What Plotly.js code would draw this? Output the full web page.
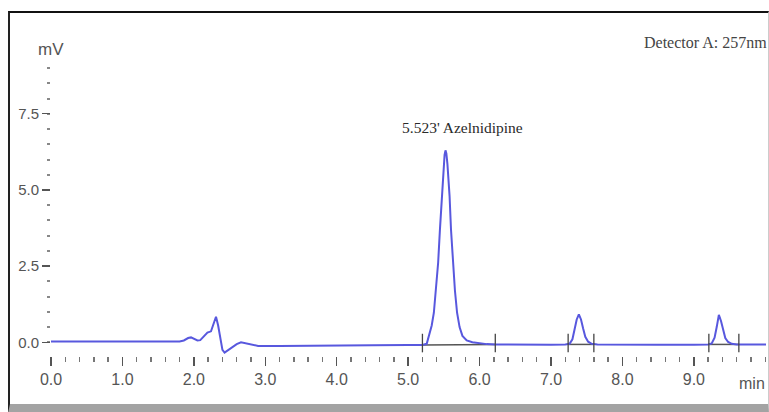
<!DOCTYPE html>
<html>
<head>
<meta charset="utf-8">
<script src="https://cdn.plot.ly/plotly-3.0.1.min.js"></script>
<style>
  html, body { margin:0; padding:0; background:#fff; }
  #frame { position:absolute; left:8px; top:11px; width:758px; height:391px;
           border-top:2px solid #111; border-left:2px solid #222; border-right:1px solid #ccc;
           border-bottom:9px solid #a3a3a3; box-sizing:content-box; }
  #chart { position:absolute; left:0; top:0; width:769px; height:412px; }
</style>
</head>
<body>
<div id="frame"></div>
<div id="chart"></div>
<script>
// Chromatogram (time in min, signal in mV)
const timeMin = [0.00, 0.50, 1.00, 1.50, 1.80, 1.86, 1.92, 1.96, 2.00, 2.05, 2.09, 2.14, 2.19, 2.24, 2.27, 2.31, 2.34, 2.37, 2.40, 2.43, 2.48, 2.54, 2.60, 2.66, 2.71, 2.77, 2.83, 2.90, 3.20, 3.50, 4.00, 4.50, 5.00,
  5.20, 5.26, 5.30, 5.33, 5.36, 5.39, 5.42, 5.445, 5.47, 5.495, 5.51, 5.523, 5.535, 5.55, 5.565, 5.58, 5.60, 5.625, 5.655, 5.685, 5.72, 5.76, 5.82, 5.90, 6.00, 6.10, 6.22,
  6.60, 7.00, 7.20, 7.26, 7.30, 7.33, 7.36, 7.39, 7.42, 7.45, 7.48, 7.52, 7.57, 7.65,
  8.00, 8.50, 9.00, 9.20, 9.25, 9.29, 9.32, 9.35, 9.38, 9.41, 9.44, 9.48, 9.53, 9.60, 10.01];
const signalMV = [0.03, 0.03, 0.03, 0.03, 0.03, 0.06, 0.14, 0.16, 0.12, 0.06, 0.07, 0.18, 0.32, 0.36, 0.55, 0.84, 0.55, 0.10, -0.25, -0.34, -0.25, -0.14, -0.06, 0.00, -0.03, -0.06, -0.10, -0.12, -0.12, -0.11, -0.10, -0.10, -0.09,
  -0.09, -0.05, 0.25, 0.55, 0.97, 1.70, 2.61, 3.70, 4.80, 5.85, 6.15, 6.30, 6.20, 5.85, 5.35, 4.80, 3.70, 2.61, 1.70, 0.97, 0.50, 0.21, 0.06, 0.00, -0.04, -0.06, -0.07,
  -0.08, -0.08, -0.07, -0.05, 0.10, 0.38, 0.75, 0.92, 0.75, 0.45, 0.18, 0.02, -0.05, -0.07,
  -0.08, -0.08, -0.08, -0.07, -0.04, 0.15, 0.50, 0.90, 0.70, 0.38, 0.14, 0.01, -0.05, -0.07, -0.07];

// Integration marks (peak start/end and baseline level)
const peakStart = [5.20, 7.24, 9.21];
const peakEnd = [6.22, 7.60, 9.63];
const peakBaseStart = [-0.09, -0.07, -0.07];
const peakBaseEnd = [-0.07, -0.07, -0.07];
const markTop = 0.28;
const markBottom = -0.33;

// Labelled peak
const labelTime = "5.523";
const labelName = "Azelnidipine";

// Axis ticks
const xTickVals = [0, 1, 2, 3, 4, 5, 6, 7, 8, 9];
const xTickText = ["0.0", "1.0", "2.0", "3.0", "4.0", "5.0", "6.0", "7.0", "8.0", "9.0"];
const yTickVals = [0, 2.5, 5.0, 7.5];
const yTickText = ["0.0", "2.5", "5.0", "7.5"];

const markX = [], markY = [];
for (let i = 0; i < peakStart.length; i++) {
  markX.push(peakStart[i], peakStart[i], null, peakEnd[i], peakEnd[i], null);
  markY.push(markTop, markBottom, null, markTop, markBottom, null);
}
const baseX = [], baseY = [];
for (let i = 0; i < peakStart.length; i++) {
  baseX.push(peakStart[i], peakEnd[i], null);
  baseY.push(peakBaseStart[i], peakBaseEnd[i], null);
}

const traces = [
  { x: baseX, y: baseY, mode: 'lines', line: { color: '#555', width: 1.5 }, hoverinfo: 'skip', showlegend: false },
  { x: timeMin, y: signalMV, mode: 'lines', line: { color: 'rgb(88,88,222)', width: 2 }, showlegend: false },
  { x: markX, y: markY, mode: 'lines', line: { color: '#444', width: 1.3 }, hoverinfo: 'skip', showlegend: false }
];

const fam = '"Liberation Sans Narrow", "Arial Narrow", "Liberation Sans", Arial, sans-serif';

const layout = {
  width: 769, height: 412,
  margin: { l: 51, r: 3, t: 59, b: 56 },
  paper_bgcolor: 'rgba(0,0,0,0)',
  plot_bgcolor: 'rgba(0,0,0,0)',
  showlegend: false,
  xaxis: {
    range: [0, 10.01], showgrid: false, zeroline: false, showline: false,
    tickmode: 'array', tickvals: xTickVals, ticktext: xTickText,
    ticks: 'outside', ticklen: 9, tickwidth: 1.3, tickcolor: '#555',
    tickfont: { family: fam, size: 16, color: '#555' },
    minor: { tickmode: 'linear', tick0: 0, dtick: 0.2, ticks: 'outside', ticklen: 5, tickwidth: 1.3, tickcolor: '#777' }
  },
  yaxis: {
    range: [-0.45, 9.3], showgrid: false, zeroline: false, showline: false,
    tickmode: 'array', tickvals: yTickVals, ticktext: yTickText,
    ticks: 'outside', ticklen: 8, tickwidth: 1.3, tickcolor: '#555',
    tickfont: { family: fam, size: 15, color: '#555' },
    minor: { tickmode: 'linear', tick0: 0, dtick: 0.5, ticks: 'outside', ticklen: 3, tickwidth: 2, tickcolor: '#888' }
  },
  annotations: [
    { text: labelTime + "' " + labelName, xref: 'x', yref: 'y', x: 5.76, y: 7.05, showarrow: false,
      font: { family: '"Liberation Serif", "Times New Roman", serif', size: 15.5, color: '#2a2a2a' } },
    { text: 'Detector A: 257nm', xref: 'paper', yref: 'paper', x: 0.826, y: 1.055, xanchor: 'left', yanchor: 'middle', showarrow: false,
      font: { family: '"Liberation Serif", "Times New Roman", serif', size: 16, color: '#444' } },
    { text: 'mV', xref: 'paper', yref: 'paper', x: 0.0, y: 1.032, xanchor: 'center', yanchor: 'middle', showarrow: false,
      font: { family: fam, size: 17, color: '#555' } },
    { text: 'min', xref: 'paper', yref: 'paper', x: 0.981, y: -0.092, xanchor: 'center', yanchor: 'middle', showarrow: false,
      font: { family: fam, size: 16, color: '#555' } }
  ]
};

Plotly.newPlot('chart', traces, layout, { displayModeBar: false, staticPlot: true });
</script>
</body>
</html>
